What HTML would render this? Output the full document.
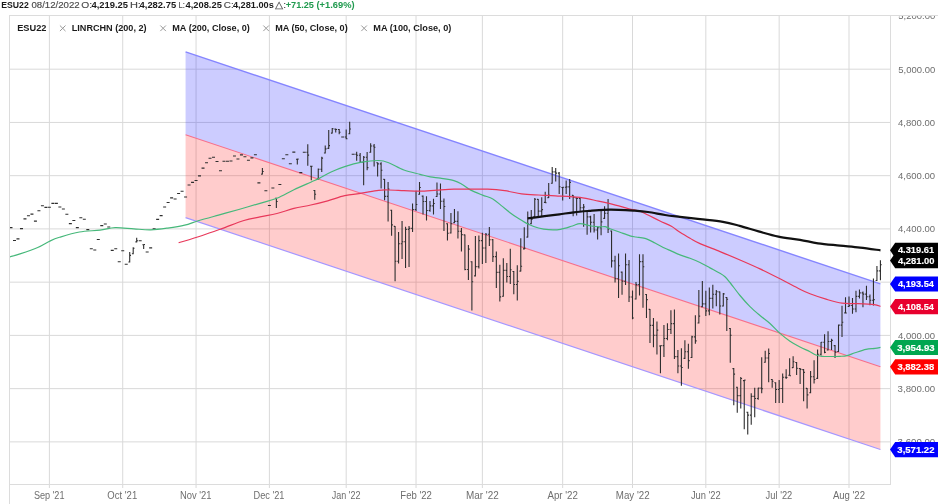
<!DOCTYPE html><html><head><meta charset="utf-8"><style>
html,body{margin:0;padding:0;width:945px;height:504px;overflow:hidden;background:#fff;}
svg{display:block;position:absolute;left:0;top:0;will-change:transform;}
text{font-family:"Liberation Sans",sans-serif;}
</style></head><body>
<svg width="945" height="504" viewBox="0 0 945 504">
<path d="M10 69.20H890 M10 122.44H890 M10 175.68H890 M10 228.92H890 M10 282.16H890 M10 335.40H890 M10 388.64H890 M10 441.88H890 M49.40 16V488 M122.72 16V488 M196.05 16V488 M269.38 16V488 M346.19 16V488 M416.03 16V488 M482.37 16V488 M562.68 16V488 M632.51 16V488 M705.84 16V488 M779.16 16V488 M849.00 16V488" stroke="#d9d9d9" stroke-width="1" fill="none"/>
<path d="M9 15.5H938M9.5 15V504M890.5 15V485M9 484.5H891" stroke="#dcdcdc" stroke-width="1" fill="none"/>
<clipPath id="cp"><rect x="10" y="16" width="880" height="468"/></clipPath>
<g clip-path="url(#cp)">
<path d="M185.57 51.9L880.42 283.88L880.42 366.71L185.57 134.73Z" fill="#0000ff" fill-opacity="0.2"/>
<path d="M185.57 134.73L880.42 366.71L880.42 449.54L185.57 217.56Z" fill="#ff0000" fill-opacity="0.2"/>
<path d="M185.57 51.9L880.42 283.88" stroke="#8585ff" stroke-width="1.4" fill="none"/>
<path d="M185.57 134.73L880.42 366.71" stroke="#f7708c" stroke-width="1.1" fill="none"/>
<path d="M185.57 217.56L880.42 449.54" stroke="#a596ff" stroke-width="1.2" fill="none"/>
<path d="M9.49 227.60H12.49 M12.98 240.50H15.98 M16.47 238.90H19.47 M19.97 228.60H22.97 M23.46 218.90H26.46 M26.95 215.70H29.95 M30.44 214.10H33.44 M33.93 221.10H36.93 M37.42 210.80H40.42 M40.92 205.80H43.92 M44.41 207.40H47.41 M47.90 207.20H50.90 M51.39 203.40H54.39 M54.88 203.40H57.88 M58.37 207.00H61.37 M61.87 209.00H64.87 M65.36 214.30H68.36 M68.85 223.60H71.85 M72.34 220.50H75.34 M75.83 227.60H78.83 M79.32 217.70H82.32 M82.82 219.30H85.82 M86.31 229.60H89.31 M89.80 248.80H92.80 M93.29 250.00H96.29 M96.78 239.50H99.78 M100.27 225.60H103.27 M103.77 224.00H106.77 M107.26 227.00H110.26 M110.75 250.40H113.75 M114.24 248.80H117.24 M117.73 261.70H120.73 M121.22 250.70H124.22 M124.72 264.20H127.72 M129.71 252.00V262.50 M128.41 262.00H129.71M129.71 255.40H131.01 M133.20 247.20V254.20 M131.90 253.70H133.20M133.20 248.26H134.50 M136.69 237.80V242.40 M135.39 241.90H136.69M136.69 240.79H137.99 M138.68 240.70H141.68 M143.67 244.20V248.90 M142.37 244.70H143.67M143.67 244.54H144.97 M145.67 252.00H148.67 M149.16 247.90H152.16 M152.65 228.90H155.65 M156.14 219.40H159.14 M159.63 215.60H162.63 M163.12 207.00H166.12 M166.62 202.50H169.62 M170.11 197.90H173.11 M173.60 199.00H176.60 M177.09 193.50H180.09 M180.58 191.30H183.58 M184.07 197.00H187.07 M187.57 185.00H190.57 M191.06 182.40H194.06 M194.55 180.50H197.55 M198.04 175.90H201.04 M201.53 168.10H204.53 M205.03 162.70H208.03 M208.52 158.20H211.52 M212.01 157.20H215.01 M215.50 161.50H218.50 M218.99 170.80H221.99 M222.48 161.30H225.48 M225.98 161.30H228.98 M229.47 161.00H232.47 M232.96 156.00H235.96 M236.45 159.00H239.45 M239.94 154.90H242.94 M243.43 156.70H246.43 M246.93 160.30H249.93 M250.42 157.90H253.42 M253.91 154.80H256.91 M257.40 182.90H260.40 M262.39 168.00V174.60 M261.09 174.10H262.39M262.39 171.54H263.69 M264.38 190.70H267.38 M267.88 205.50H270.88 M271.37 188.00H274.37 M276.36 197.70V208.10 M275.06 198.20H276.36M276.36 201.50H277.66 M278.35 184.50H281.35 M281.84 158.80H284.84 M285.33 154.80H288.33 M288.83 163.80H291.83 M292.32 152.10H295.32 M297.31 158.80V164.40 M296.01 159.30H297.31M297.31 159.12H298.61 M299.30 172.60H302.30 M302.79 152.20H305.79 M307.78 144.20V165.70 M306.48 152.20H307.78M307.78 155.11H309.08 M311.28 165.70V180.30 M309.98 166.20H311.28M311.28 166.25H312.58 M314.77 190.00V199.70 M313.47 190.50H314.77M314.77 194.21H316.07 M318.26 168.50V179.60 M316.96 179.10H318.26M318.26 169.28H319.56 M321.75 156.70V172.00 M320.45 169.28H321.75M321.75 158.09H323.05 M325.24 145.40V153.50 M323.94 153.00H325.24M325.24 148.84H326.54 M328.73 130.10V148.90 M327.43 148.40H328.73M328.73 145.64H330.03 M332.23 128.00V133.60 M330.93 133.10H332.23M332.23 128.69H333.53 M335.72 128.60V132.50 M334.42 129.10H335.72M335.72 129.47H337.02 M339.21 128.90V134.30 M337.91 129.47H339.21M339.21 132.29H340.51 M341.20 137.00H344.20 M346.19 129.40V139.20 M344.89 137.00H346.19M346.19 138.69H347.49 M349.68 121.80V134.30 M348.38 133.80H349.68M349.68 129.01H350.98 M351.68 154.20H354.68 M356.67 151.70V160.70 M355.37 154.20H356.67M356.67 155.27H357.97 M360.16 153.00V162.50 M358.86 155.27H360.16M360.16 162.27H361.46 M363.65 155.90V185.20 M362.35 162.27H363.65M363.65 157.26H364.95 M367.14 151.90V170.20 M365.84 157.26H367.14M367.14 167.61H368.44 M370.64 143.20V152.70 M369.34 152.20H370.64M370.64 145.95H371.94 M374.13 144.00V166.50 M372.83 145.95H374.13M374.13 147.25H375.43 M377.62 162.20V176.50 M376.32 162.70H377.62M377.62 163.88H378.92 M381.11 162.20V188.40 M379.81 163.88H381.11M381.11 170.28H382.41 M384.60 178.90V200.30 M383.30 179.40H384.60M384.60 196.37H385.90 M388.09 182.00V221.40 M386.79 196.37H388.09M388.09 189.12H389.39 M391.59 209.80V235.70 M390.29 210.30H391.59M391.59 224.86H392.89 M395.08 225.90V281.25 M393.78 226.40H395.08M395.08 261.26H396.38 M398.57 232.00V263.40 M397.27 261.26H398.57M398.57 243.69H399.87 M402.06 221.00V259.00 M400.76 243.69H402.06M402.06 241.81H403.36 M405.55 226.80V267.90 M404.25 241.81H405.55M405.55 229.38H406.85 M409.04 225.90V267.00 M407.74 229.38H409.04M409.04 228.35H410.34 M412.54 203.60V232.10 M411.24 228.35H412.54M412.54 209.47H413.84 M416.03 190.80V211.00 M414.73 209.47H416.03M416.03 204.54H417.33 M419.52 182.00V194.80 M418.22 194.30H419.52M419.52 187.47H420.82 M423.01 195.60V214.50 M421.71 196.10H423.01M423.01 201.54H424.31 M426.50 196.30V220.50 M425.20 201.54H426.50M426.50 210.47H427.80 M429.99 201.10V211.70 M428.69 210.47H429.99M429.99 205.90H431.29 M433.49 198.70V214.50 M432.19 205.90H433.49M433.49 203.44H434.79 M436.98 182.50V197.00 M435.68 196.50H436.98M436.98 194.02H438.28 M440.47 183.50V208.90 M439.17 194.02H440.47M440.47 201.25H441.77 M443.96 198.60V231.10 M442.66 201.25H443.96M443.96 206.53H445.26 M447.45 223.20V240.60 M446.15 223.70H447.45M447.45 233.19H448.75 M450.94 212.90V233.50 M449.64 233.00H450.94M450.94 223.72H452.24 M454.44 208.90V223.20 M453.14 222.70H454.44M454.44 221.41H455.74 M457.93 211.30V238.60 M456.63 221.41H457.93M457.93 231.21H459.23 M461.42 227.90V251.40 M460.12 231.21H461.42M461.42 234.67H462.72 M464.91 234.40V270.20 M463.61 234.90H464.91M464.91 269.49H466.21 M468.40 245.00V280.00 M467.10 269.49H468.40M468.40 249.13H469.70 M471.89 261.25V310.40 M470.59 261.75H471.89M471.89 281.80H473.19 M475.39 236.00V276.40 M474.09 275.90H475.39M475.39 266.59H476.69 M478.88 235.60V268.40 M477.58 266.59H478.88M478.88 240.59H480.18 M482.37 232.70V263.90 M481.07 240.59H482.37M482.37 247.96H483.67 M485.86 233.10V263.00 M484.56 247.96H485.86M485.86 234.27H487.16 M489.35 227.10V246.00 M488.05 234.27H489.35M489.35 239.73H490.65 M492.84 239.00V262.00 M491.54 239.73H492.84M492.84 256.59H494.14 M496.34 251.40V288.00 M495.04 256.59H496.34M496.34 272.37H497.64 M499.83 264.80V301.40 M498.53 272.37H499.83M499.83 296.84H501.13 M503.32 258.30V296.70 M502.02 296.20H503.32M503.32 270.35H504.62 M506.81 263.00V282.50 M505.51 270.35H506.81M506.81 276.56H508.11 M510.30 248.70V284.00 M509.00 276.56H510.30M510.30 269.68H511.60 M513.79 271.00V294.30 M512.49 271.50H513.79M513.79 284.51H515.09 M517.29 265.20V300.60 M515.99 284.51H517.29M517.29 281.35H518.59 M520.78 238.30V271.60 M519.48 271.10H520.78M520.78 266.27H522.08 M524.27 227.30V249.40 M522.97 248.90H524.27M524.27 248.18H525.57 M527.76 211.60V237.60 M526.46 237.10H527.76M527.76 223.93H529.06 M531.25 210.00V224.30 M529.95 223.80H531.25M531.25 219.50H532.55 M534.75 198.10V217.10 M533.45 216.60H534.75M534.75 199.25H536.04 M538.24 198.90V216.30 M536.94 199.40H538.24M538.24 211.11H539.54 M541.73 197.30V216.30 M540.43 211.11H541.73M541.73 209.60H543.03 M545.22 191.70V202.90 M543.92 202.40H545.22M545.22 202.82H546.52 M548.71 183.00V198.10 M547.41 197.60H548.71M548.71 195.41H550.01 M552.20 167.10V183.80 M550.90 183.30H552.20M552.20 171.85H553.50 M555.70 167.90V181.40 M554.40 171.85H555.70M555.70 173.11H557.00 M559.19 171.90V194.10 M557.89 173.11H559.19M559.19 186.74H560.49 M562.68 187.00V200.50 M561.38 187.50H562.68M562.68 187.30H563.98 M566.17 180.60V194.10 M564.87 187.30H566.17M566.17 186.83H567.47 M569.66 179.00V198.90 M568.36 186.83H569.66M569.66 182.34H570.96 M573.15 194.90V216.30 M571.85 195.40H573.15M573.15 197.41H574.45 M576.65 197.40V215.60 M575.35 197.90H576.65M576.65 198.47H577.95 M580.14 197.00V210.90 M578.84 198.47H580.14M580.14 207.68H581.44 M583.63 204.00V226.80 M582.33 207.68H583.63M583.63 206.95H584.93 M587.12 211.00V234.80 M585.82 211.50H587.12M587.12 216.89H588.42 M590.61 215.70V232.40 M589.31 216.89H590.61M590.61 222.23H591.91 M594.10 214.10V232.40 M592.80 222.23H594.10M594.10 230.05H595.40 M597.60 226.80V239.50 M596.30 230.05H597.60M597.60 227.82H598.90 M601.09 211.00V235.30 M599.79 227.82H601.09M601.09 221.92H602.39 M604.58 206.20V218.90 M603.28 218.40H604.58M604.58 213.18H605.88 M608.07 199.00V233.00 M606.77 213.18H608.07M608.07 229.04H609.37 M611.56 230.50V267.60 M610.26 231.00H611.56M611.56 260.90H612.86 M615.05 255.80V282.40 M613.75 260.90H615.05M615.05 278.78H616.35 M618.55 253.40V298.00 M617.25 278.78H618.55M618.55 265.82H619.85 M622.04 271.60V294.70 M620.74 272.10H622.04M622.04 281.19H623.34 M625.53 253.40V285.10 M624.23 281.19H625.53M625.53 264.77H626.83 M629.02 260.10V301.90 M627.72 264.77H629.02M629.02 297.06H630.32 M632.51 290.40V319.20 M631.21 297.06H632.51M632.51 317.98H633.81 M636.00 282.00V299.50 M634.70 299.00H636.00M636.00 284.64H637.30 M639.50 254.30V295.60 M638.20 284.64H639.50M639.50 261.58H640.80 M642.99 254.30V307.80 M641.69 261.58H642.99M642.99 266.71H644.29 M646.48 294.00V317.90 M645.18 294.50H646.48M646.48 299.58H647.78 M649.97 308.90V342.90 M648.67 309.40H649.97M649.97 325.39H651.27 M653.46 317.90V347.30 M652.16 325.39H653.46M653.46 335.22H654.76 M656.95 321.40V354.50 M655.65 335.22H656.95M656.95 330.10H658.25 M660.45 345.50V373.20 M659.15 346.00H660.45M660.45 345.61H661.75 M663.94 325.00V357.10 M662.64 345.61H663.94M663.94 338.45H665.24 M667.43 323.20V340.20 M666.13 338.45H667.43M667.43 329.48H668.73 M670.92 310.20V333.90 M669.62 329.48H670.92M670.92 323.62H672.22 M674.41 309.40V358.90 M673.11 323.62H674.41M674.41 356.58H675.71 M677.90 350.00V373.20 M676.60 356.58H677.90M677.90 366.02H679.20 M681.40 348.20V385.70 M680.10 366.02H681.40M681.40 367.53H682.70 M684.89 340.20V358.90 M683.59 358.40H684.89M684.89 351.75H686.19 M688.38 343.75V368.75 M687.08 351.75H688.38M688.38 360.66H689.68 M691.87 335.70V358.00 M690.57 357.50H691.87M691.87 336.90H693.17 M695.36 315.20V343.75 M694.06 336.90H695.36M695.36 340.88H696.66 M698.85 290.10V323.50 M697.55 323.00H698.85M698.85 316.15H700.15 M702.35 281.10V307.20 M701.05 306.70H702.35M702.35 303.92H703.65 M705.84 290.70V316.00 M704.54 303.92H705.84M705.84 310.89H707.14 M709.33 287.50V315.20 M708.03 310.89H709.33M709.33 298.37H710.63 M712.82 284.80V308.50 M711.52 298.37H712.82M712.82 294.26H714.12 M716.31 290.00V306.20 M715.01 294.26H716.31M716.31 291.68H717.61 M719.81 291.40V314.40 M718.51 291.90H719.81M719.81 305.99H721.11 M723.30 293.00V306.50 M722.00 305.99H723.30M723.30 293.84H724.60 M726.79 297.00V331.10 M725.49 297.50H726.79M726.79 299.30H728.09 M730.28 328.00V362.70 M728.98 328.50H730.28M730.28 335.24H731.58 M733.77 368.10V405.20 M732.47 368.60H733.77M733.77 374.12H735.07 M737.26 386.70V412.80 M735.96 387.20H737.26M737.26 395.58H738.56 M740.76 376.90V408.50 M739.46 395.58H740.76M740.76 378.56H742.06 M744.25 380.10V429.20 M742.95 380.60H744.25M744.25 380.11H745.55 M747.74 411.70V434.60 M746.44 412.20H747.74M747.74 415.16H749.04 M751.23 393.20V424.80 M749.93 415.16H751.23M751.23 396.41H752.53 M754.72 387.80V417.20 M753.42 396.41H754.72M754.72 398.49H756.02 M758.21 387.80V399.75 M756.91 398.49H758.21M758.21 388.10H759.51 M761.71 357.20V393.20 M760.41 388.10H761.71M761.71 388.68H763.01 M765.20 350.70V362.70 M763.90 362.20H765.20M765.20 358.07H766.50 M768.69 348.50V382.30 M767.39 358.07H768.69M768.69 353.52H769.99 M772.18 379.00V387.80 M770.88 379.50H772.18M772.18 381.22H773.48 M775.67 382.30V403.00 M774.37 382.80H775.67M775.67 389.49H776.97 M779.16 380.10V403.00 M777.86 389.49H779.16M779.16 388.44H780.46 M782.66 373.60V403.00 M781.36 388.44H782.66M782.66 377.21H783.96 M786.15 369.20V379.00 M784.85 377.21H786.15M786.15 377.52H787.45 M789.64 358.30V375.80 M788.34 375.30H789.64M789.64 375.68H790.94 M793.13 356.20V368.10 M791.83 367.60H793.13M793.13 361.75H794.43 M796.62 362.00V375.00 M795.32 362.50H796.62M796.62 368.29H797.92 M800.11 368.00V384.00 M798.81 368.50H800.11M800.11 369.37H801.41 M803.61 369.10V401.25 M802.31 369.60H803.61M803.61 372.39H804.91 M807.10 387.90V408.40 M805.80 388.40H807.10M807.10 394.92H808.40 M810.59 370.90V393.20 M809.29 392.70H810.59M810.59 376.80H811.89 M814.08 360.20V383.40 M812.78 376.80H814.08M814.08 379.43H815.38 M817.57 349.50V378.90 M816.27 378.40H817.57M817.57 354.25H818.87 M821.06 342.00V355.50 M819.76 354.25H821.06M821.06 342.31H822.36 M824.56 334.20V353.30 M823.26 342.31H824.56M824.56 352.36H825.86 M828.05 331.30V350.50 M826.75 350.00H828.05M828.05 341.44H829.35 M831.54 338.70V350.00 M830.24 341.44H831.54M831.54 340.36H832.84 M835.03 345.10V358.10 M833.73 345.60H835.03M835.03 352.16H836.33 M838.52 324.40V352.00 M837.22 351.50H838.52M838.52 325.15H839.82 M842.01 305.80V337.00 M840.71 325.15H842.01M842.01 322.28H843.31 M845.51 297.20V313.40 M844.21 312.90H845.51M845.51 313.05H846.81 M849.00 296.50V307.00 M847.70 306.50H849.00M849.00 305.56H850.30 M852.49 298.00V313.80 M851.19 305.56H852.49M852.49 309.00H853.79 M855.98 290.80V312.20 M854.68 309.00H855.98M855.98 296.39H857.28 M859.47 289.60V298.40 M858.17 296.39H859.47M859.47 292.83H860.77 M862.96 291.50V307.20 M861.66 292.83H862.96M862.96 294.12H864.26 M866.46 285.70V300.00 M865.16 294.12H866.46M866.46 296.74H867.76 M869.95 294.60V305.30 M868.65 296.74H869.95M869.95 300.30H871.25 M873.44 278.60V305.60 M872.14 300.30H873.44M873.44 299.63H874.74 M876.93 265.90V281.00 M875.63 280.50H876.93M876.93 270.88H878.23 M880.42 260.30V280.20 M879.12 270.88H880.42M880.42 264.74H881.72" stroke="#2e2e2e" stroke-width="1.1" fill="none"/>
<path d="M9.50 256.90 C11.25 256.40 15.30 255.47 20.00 253.90 C24.70 252.33 32.77 249.62 37.70 247.50 C42.63 245.38 45.97 242.90 49.60 241.20 C53.23 239.50 54.53 238.83 59.50 237.30 C64.47 235.77 72.65 233.20 79.40 232.00 C86.15 230.80 94.03 230.83 100.00 230.10 C105.97 229.37 109.55 227.80 115.20 227.60 C120.85 227.40 127.97 228.53 133.90 228.90 C139.83 229.27 145.17 229.93 150.80 229.80 C156.43 229.67 162.05 228.87 167.70 228.10 C173.35 227.33 179.62 226.42 184.70 225.20 C189.78 223.98 192.57 222.48 198.20 220.80 C203.83 219.12 211.73 216.98 218.50 215.10 C225.27 213.22 231.88 211.47 238.80 209.50 C245.72 207.53 253.65 205.17 260.00 203.30 C266.35 201.43 271.25 200.55 276.90 198.30 C282.55 196.05 288.25 192.48 293.90 189.80 C299.55 187.12 306.57 184.10 310.80 182.20 C315.03 180.30 315.92 180.10 319.30 178.40 C322.68 176.70 326.87 173.97 331.10 172.00 C335.33 170.03 339.62 168.23 344.70 166.60 C349.78 164.97 355.97 163.22 361.60 162.20 C367.23 161.18 373.98 160.42 378.50 160.50 C383.02 160.58 384.47 161.12 388.70 162.70 C392.93 164.28 398.68 168.07 403.90 170.00 C409.12 171.93 415.62 173.15 420.00 174.30 C424.38 175.45 426.82 176.25 430.20 176.90 C433.58 177.55 436.35 177.58 440.30 178.20 C444.25 178.82 450.23 179.55 453.90 180.60 C457.57 181.65 459.48 182.92 462.30 184.50 C465.12 186.08 467.42 188.33 470.80 190.10 C474.18 191.87 478.93 193.63 482.60 195.10 C486.27 196.57 489.68 197.15 492.80 198.90 C495.92 200.65 498.48 203.35 501.30 205.60 C504.12 207.85 506.88 210.28 509.70 212.40 C512.52 214.52 515.08 216.32 518.20 218.30 C521.32 220.28 525.02 222.68 528.40 224.30 C531.78 225.92 535.12 227.10 538.50 228.00 C541.88 228.90 545.03 229.48 548.70 229.70 C552.37 229.92 556.55 229.92 560.50 229.30 C564.45 228.68 569.15 226.95 572.40 226.00 C575.65 225.05 576.90 223.60 580.00 223.60 C583.10 223.60 587.67 225.45 591.00 226.00 C594.33 226.55 597.67 226.78 600.00 226.90 C602.33 227.02 603.33 226.40 605.00 226.70 C606.67 227.00 607.50 227.77 610.00 228.70 C612.50 229.63 616.67 231.12 620.00 232.30 C623.33 233.48 627.33 235.02 630.00 235.80 C632.67 236.58 633.50 236.57 636.00 237.00 C638.50 237.43 641.83 237.40 645.00 238.40 C648.17 239.40 651.67 241.35 655.00 243.00 C658.33 244.65 662.33 246.98 665.00 248.30 C667.67 249.62 668.50 249.80 671.00 250.90 C673.50 252.00 676.83 253.67 680.00 254.90 C683.17 256.13 686.67 257.03 690.00 258.30 C693.33 259.57 696.67 260.90 700.00 262.50 C703.33 264.10 706.67 266.10 710.00 267.90 C713.33 269.70 717.50 271.82 720.00 273.30 C722.50 274.78 723.33 275.27 725.00 276.80 C726.67 278.33 727.50 279.38 730.00 282.50 C732.50 285.62 736.67 291.48 740.00 295.50 C743.33 299.52 746.67 303.27 750.00 306.60 C753.33 309.93 756.67 312.68 760.00 315.50 C763.33 318.32 766.67 320.52 770.00 323.50 C773.33 326.48 776.67 330.45 780.00 333.40 C783.33 336.35 786.67 338.93 790.00 341.20 C793.33 343.47 796.67 345.25 800.00 347.00 C803.33 348.75 807.33 350.37 810.00 351.70 C812.67 353.03 814.00 354.23 816.00 355.00 C818.00 355.77 819.67 356.05 822.00 356.30 C824.33 356.55 827.00 356.50 830.00 356.50 C833.00 356.50 837.17 356.45 840.00 356.30 C842.83 356.15 844.50 356.18 847.00 355.60 C849.50 355.02 851.83 353.83 855.00 352.80 C858.17 351.77 862.67 350.13 866.00 349.40 C869.33 348.67 872.58 348.73 875.00 348.40 C877.42 348.07 879.58 347.57 880.50 347.40" stroke="#46b87a" stroke-width="1.2" fill="none" stroke-linejoin="round"/>
<path d="M178.60 242.80 C182.43 241.62 194.38 238.07 201.60 235.70 C208.82 233.33 214.85 231.13 221.90 228.60 C228.95 226.07 237.55 222.45 243.90 220.50 C250.25 218.55 254.50 218.07 260.00 216.90 C265.50 215.73 271.25 214.92 276.90 213.50 C282.55 212.08 288.25 209.82 293.90 208.40 C299.55 206.98 305.17 206.27 310.80 205.00 C316.43 203.73 322.05 202.35 327.70 200.80 C333.35 199.25 339.05 196.97 344.70 195.70 C350.35 194.43 355.97 194.10 361.60 193.20 C367.23 192.30 373.98 190.83 378.50 190.30 C383.02 189.77 384.47 189.95 388.70 190.00 C392.93 190.05 398.68 190.40 403.90 190.60 C409.12 190.80 414.50 191.28 420.00 191.20 C425.50 191.12 431.25 190.43 436.90 190.10 C442.55 189.77 448.25 189.35 453.90 189.20 C459.55 189.05 465.17 189.20 470.80 189.20 C476.43 189.20 482.05 188.95 487.70 189.20 C493.35 189.45 499.05 189.93 504.70 190.70 C510.35 191.47 515.97 193.08 521.60 193.80 C527.23 194.52 532.85 194.67 538.50 195.00 C544.15 195.33 548.58 195.40 555.50 195.80 C562.42 196.20 572.83 196.50 580.00 197.40 C587.17 198.30 592.58 199.92 598.50 201.20 C604.42 202.48 610.42 203.83 615.50 205.10 C620.58 206.37 624.92 207.77 629.00 208.80 C633.08 209.83 636.83 210.27 640.00 211.30 C643.17 212.33 644.67 213.38 648.00 215.00 C651.33 216.62 656.10 219.12 660.00 221.00 C663.90 222.88 668.07 224.42 671.40 226.30 C674.73 228.18 676.90 230.32 680.00 232.30 C683.10 234.28 686.67 236.32 690.00 238.20 C693.33 240.08 695.00 241.37 700.00 243.60 C705.00 245.83 713.33 248.87 720.00 251.60 C726.67 254.33 733.33 257.12 740.00 260.00 C746.67 262.88 753.33 265.77 760.00 268.90 C766.67 272.03 773.33 275.40 780.00 278.80 C786.67 282.20 795.00 286.80 800.00 289.30 C805.00 291.80 805.67 292.15 810.00 293.80 C814.33 295.45 820.67 297.63 826.00 299.20 C831.33 300.77 836.67 302.47 842.00 303.20 C847.33 303.93 852.67 303.37 858.00 303.60 C863.33 303.83 870.25 304.13 874.00 304.60 C877.75 305.07 879.42 306.10 880.50 306.40" stroke="#e8385a" stroke-width="1.2" fill="none" stroke-linejoin="round"/>
<path d="M527.60 218.40 C530.43 218.03 539.30 216.88 544.60 216.20 C549.90 215.52 554.50 214.95 559.40 214.30 C564.30 213.65 569.07 212.87 574.00 212.30 C578.93 211.73 584.00 211.32 589.00 210.90 C594.00 210.48 599.05 209.98 604.00 209.80 C608.95 209.62 613.78 209.67 618.70 209.80 C623.62 209.93 628.62 210.23 633.50 210.60 C638.38 210.97 642.75 211.27 648.00 212.00 C653.25 212.73 659.67 214.18 665.00 215.00 C670.33 215.82 674.17 216.20 680.00 216.90 C685.83 217.60 692.85 218.37 700.00 219.20 C707.15 220.03 716.28 220.78 722.90 221.90 C729.52 223.02 733.75 224.32 739.70 225.90 C745.65 227.48 752.15 229.62 758.60 231.40 C765.05 233.18 771.50 235.20 778.40 236.60 C785.30 238.00 793.40 238.68 800.00 239.80 C806.60 240.92 811.33 242.33 818.00 243.30 C824.67 244.27 833.00 244.88 840.00 245.60 C847.00 246.32 853.25 246.82 860.00 247.60 C866.75 248.38 877.08 249.85 880.50 250.30" stroke="#111" stroke-width="2.2" fill="none" stroke-linejoin="round"/>
</g>
<clipPath id="cpa"><rect x="891" y="16" width="54" height="488"/></clipPath>
<g clip-path="url(#cpa)">
<text x="898.32" y="19.46" font-size="9.6" font-weight="normal" fill="#6e6e6e" textLength="36.87" lengthAdjust="spacingAndGlyphs" >5,200.00</text>
<text x="898.32" y="72.70" font-size="9.6" font-weight="normal" fill="#6e6e6e" textLength="36.87" lengthAdjust="spacingAndGlyphs" >5,000.00</text>
<text x="898.08" y="125.94" font-size="9.6" font-weight="normal" fill="#6e6e6e" textLength="37.06" lengthAdjust="spacingAndGlyphs" >4,800.00</text>
<text x="898.08" y="179.18" font-size="9.6" font-weight="normal" fill="#6e6e6e" textLength="37.06" lengthAdjust="spacingAndGlyphs" >4,600.00</text>
<text x="898.08" y="232.42" font-size="9.6" font-weight="normal" fill="#6e6e6e" textLength="37.06" lengthAdjust="spacingAndGlyphs" >4,400.00</text>
<text x="898.08" y="285.66" font-size="9.6" font-weight="normal" fill="#6e6e6e" textLength="37.06" lengthAdjust="spacingAndGlyphs" >4,200.00</text>
<text x="898.08" y="338.90" font-size="9.6" font-weight="normal" fill="#6e6e6e" textLength="37.06" lengthAdjust="spacingAndGlyphs" >4,000.00</text>
<text x="897.64" y="392.14" font-size="9.6" font-weight="normal" fill="#6e6e6e" textLength="37.58" lengthAdjust="spacingAndGlyphs" >3,800.00</text>
<text x="897.64" y="445.38" font-size="9.6" font-weight="normal" fill="#6e6e6e" textLength="37.58" lengthAdjust="spacingAndGlyphs" >3,600.00</text>
</g>
<path d="M890 250.32L895.2 242.82H938V258.02H895.2Z" fill="#000000"/>
<text x="897.92" y="253.42" font-size="9.8" font-weight="bold" fill="#ffffff" textLength="36.16" lengthAdjust="spacingAndGlyphs" stroke="#fff" stroke-width="0.15">4,319.61</text>
<path d="M890 260.60L895.2 253.10H938V268.30H895.2Z" fill="#000000"/>
<text x="897.92" y="263.70" font-size="9.8" font-weight="bold" fill="#ffffff" textLength="36.55" lengthAdjust="spacingAndGlyphs" stroke="#fff" stroke-width="0.15">4,281.00</text>
<path d="M890 283.88L895.2 276.38H938V291.58H895.2Z" fill="#0000ff"/>
<text x="897.92" y="286.98" font-size="9.8" font-weight="bold" fill="#ffffff" textLength="36.06" lengthAdjust="spacingAndGlyphs" stroke="#fff" stroke-width="0.15">4,193.54</text>
<path d="M890 306.51L895.2 299.01H938V314.21H895.2Z" fill="#e8002e"/>
<text x="897.92" y="309.61" font-size="9.8" font-weight="bold" fill="#ffffff" textLength="36.06" lengthAdjust="spacingAndGlyphs" stroke="#fff" stroke-width="0.15">4,108.54</text>
<path d="M890 347.40L895.2 339.90H938V355.10H895.2Z" fill="#00a650"/>
<text x="897.31" y="350.50" font-size="9.8" font-weight="bold" fill="#ffffff" textLength="37.27" lengthAdjust="spacingAndGlyphs" stroke="#fff" stroke-width="0.15">3,954.93</text>
<path d="M890 366.71L895.2 359.21H938V374.41H895.2Z" fill="#ff0000"/>
<text x="897.42" y="369.81" font-size="9.8" font-weight="bold" fill="#ffffff" textLength="36.83" lengthAdjust="spacingAndGlyphs" stroke="#fff" stroke-width="0.15">3,882.38</text>
<path d="M890 449.54L895.2 442.04H938V457.24H895.2Z" fill="#0000ff"/>
<text x="897.33" y="452.64" font-size="9.8" font-weight="bold" fill="#ffffff" textLength="37.13" lengthAdjust="spacingAndGlyphs" stroke="#fff" stroke-width="0.15">3,571.22</text>
<text x="1.3" y="7.90" font-size="9.5" font-weight="bold" fill="#1a1a1a" textLength="27.45" lengthAdjust="spacingAndGlyphs" >ESU22</text>
<text x="31.44" y="7.90" font-size="9.5" font-weight="normal" fill="#4a4a4a" textLength="48.26" lengthAdjust="spacingAndGlyphs" stroke="#4a4a4a" stroke-width="0.15">08/12/2022</text>
<text x="81.27" y="7.90" font-size="9.5" font-weight="normal" fill="#4a4a4a" textLength="10.81" lengthAdjust="spacingAndGlyphs" stroke="#4a4a4a" stroke-width="0.15">O:</text>
<text x="91.42" y="7.90" font-size="9.5" font-weight="bold" fill="#1a1a1a" textLength="36.66" lengthAdjust="spacingAndGlyphs" >4,219.25</text>
<text x="129.95" y="7.90" font-size="9.5" font-weight="normal" fill="#4a4a4a" textLength="10.98" lengthAdjust="spacingAndGlyphs" stroke="#4a4a4a" stroke-width="0.15">H:</text>
<text x="139.54" y="7.90" font-size="9.5" font-weight="bold" fill="#1a1a1a" textLength="36.65" lengthAdjust="spacingAndGlyphs" >4,282.75</text>
<text x="178.46" y="7.90" font-size="9.5" font-weight="normal" fill="#4a4a4a" textLength="6.35" lengthAdjust="spacingAndGlyphs" stroke="#4a4a4a" stroke-width="0.15">L:</text>
<text x="185.54" y="7.90" font-size="9.5" font-weight="bold" fill="#1a1a1a" textLength="36.31" lengthAdjust="spacingAndGlyphs" >4,208.25</text>
<text x="223.87" y="7.90" font-size="9.5" font-weight="normal" fill="#4a4a4a" textLength="9.94" lengthAdjust="spacingAndGlyphs" stroke="#4a4a4a" stroke-width="0.15">C:</text>
<text x="232.92" y="7.90" font-size="9.5" font-weight="bold" fill="#1a1a1a" textLength="40.89" lengthAdjust="spacingAndGlyphs" >4,281.00s</text>
<text x="274.8" y="7.90" font-size="9.5" font-weight="normal" fill="#4a4a4a" textLength="11.29" lengthAdjust="spacingAndGlyphs" stroke="#4a4a4a" stroke-width="0.15">△:</text>
<text x="285.71" y="7.90" font-size="9.5" font-weight="bold" fill="#1f9a4e" textLength="28.26" lengthAdjust="spacingAndGlyphs" >+71.25</text>
<text x="316.53" y="7.90" font-size="9.5" font-weight="bold" fill="#1f9a4e" textLength="38.09" lengthAdjust="spacingAndGlyphs" >(+1.69%)</text>
<text x="17.21" y="31.30" font-size="9" font-weight="bold" fill="#1a1a1a" textLength="29.27" lengthAdjust="spacingAndGlyphs" >ESU22</text>
<text x="71.77" y="31.30" font-size="9" font-weight="bold" fill="#1a1a1a" textLength="74.78" lengthAdjust="spacingAndGlyphs" >LINRCHN (200, 2)</text>
<text x="172.29" y="31.30" font-size="9" font-weight="bold" fill="#1a1a1a" textLength="77.57" lengthAdjust="spacingAndGlyphs" >MA (200, Close, 0)</text>
<text x="275.2" y="31.30" font-size="9" font-weight="bold" fill="#1a1a1a" textLength="72.49" lengthAdjust="spacingAndGlyphs" >MA (50, Close, 0)</text>
<text x="373.3" y="31.30" font-size="9" font-weight="bold" fill="#1a1a1a" textLength="78.07" lengthAdjust="spacingAndGlyphs" >MA (100, Close, 0)</text>
<text x="33.88" y="499.10" font-size="10" font-weight="normal" fill="#6e6e6e" textLength="30.6" lengthAdjust="spacingAndGlyphs" >Sep '21</text>
<text x="107.33" y="499.10" font-size="10" font-weight="normal" fill="#6e6e6e" textLength="29.87" lengthAdjust="spacingAndGlyphs" >Oct '21</text>
<text x="180.01" y="499.10" font-size="10" font-weight="normal" fill="#6e6e6e" textLength="31.57" lengthAdjust="spacingAndGlyphs" >Nov '21</text>
<text x="253.5" y="499.10" font-size="10" font-weight="normal" fill="#6e6e6e" textLength="30.98" lengthAdjust="spacingAndGlyphs" >Dec '21</text>
<text x="331.67" y="499.10" font-size="10" font-weight="normal" fill="#6e6e6e" textLength="28.76" lengthAdjust="spacingAndGlyphs" >Jan '22</text>
<text x="400.37" y="499.10" font-size="10" font-weight="normal" fill="#6e6e6e" textLength="31.55" lengthAdjust="spacingAndGlyphs" >Feb '22</text>
<text x="465.98" y="499.10" font-size="10" font-weight="normal" fill="#6e6e6e" textLength="32.77" lengthAdjust="spacingAndGlyphs" >Mar '22</text>
<text x="547.4" y="499.10" font-size="10" font-weight="normal" fill="#6e6e6e" textLength="30.56" lengthAdjust="spacingAndGlyphs" >Apr '22</text>
<text x="615.8" y="499.10" font-size="10" font-weight="normal" fill="#6e6e6e" textLength="33.8" lengthAdjust="spacingAndGlyphs" >May '22</text>
<text x="690.89" y="499.10" font-size="10" font-weight="normal" fill="#6e6e6e" textLength="29.86" lengthAdjust="spacingAndGlyphs" >Jun '22</text>
<text x="765.62" y="499.10" font-size="10" font-weight="normal" fill="#6e6e6e" textLength="26.68" lengthAdjust="spacingAndGlyphs" >Jul '22</text>
<text x="832.88" y="499.10" font-size="10" font-weight="normal" fill="#6e6e6e" textLength="32.12" lengthAdjust="spacingAndGlyphs" >Aug '22</text>
<path d="M59.900000000000006 25.5L65.5 31.1M65.5 25.5L59.900000000000006 31.1" stroke="#999" stroke-width="1" fill="none"/>
<path d="M160.29999999999998 25.5L165.9 31.1M165.9 25.5L160.29999999999998 31.1" stroke="#999" stroke-width="1" fill="none"/>
<path d="M263.3 25.5L268.90000000000003 31.1M268.90000000000003 25.5L263.3 31.1" stroke="#999" stroke-width="1" fill="none"/>
<path d="M361.3 25.5L366.90000000000003 31.1M366.90000000000003 25.5L361.3 31.1" stroke="#999" stroke-width="1" fill="none"/>
</svg></body></html>
